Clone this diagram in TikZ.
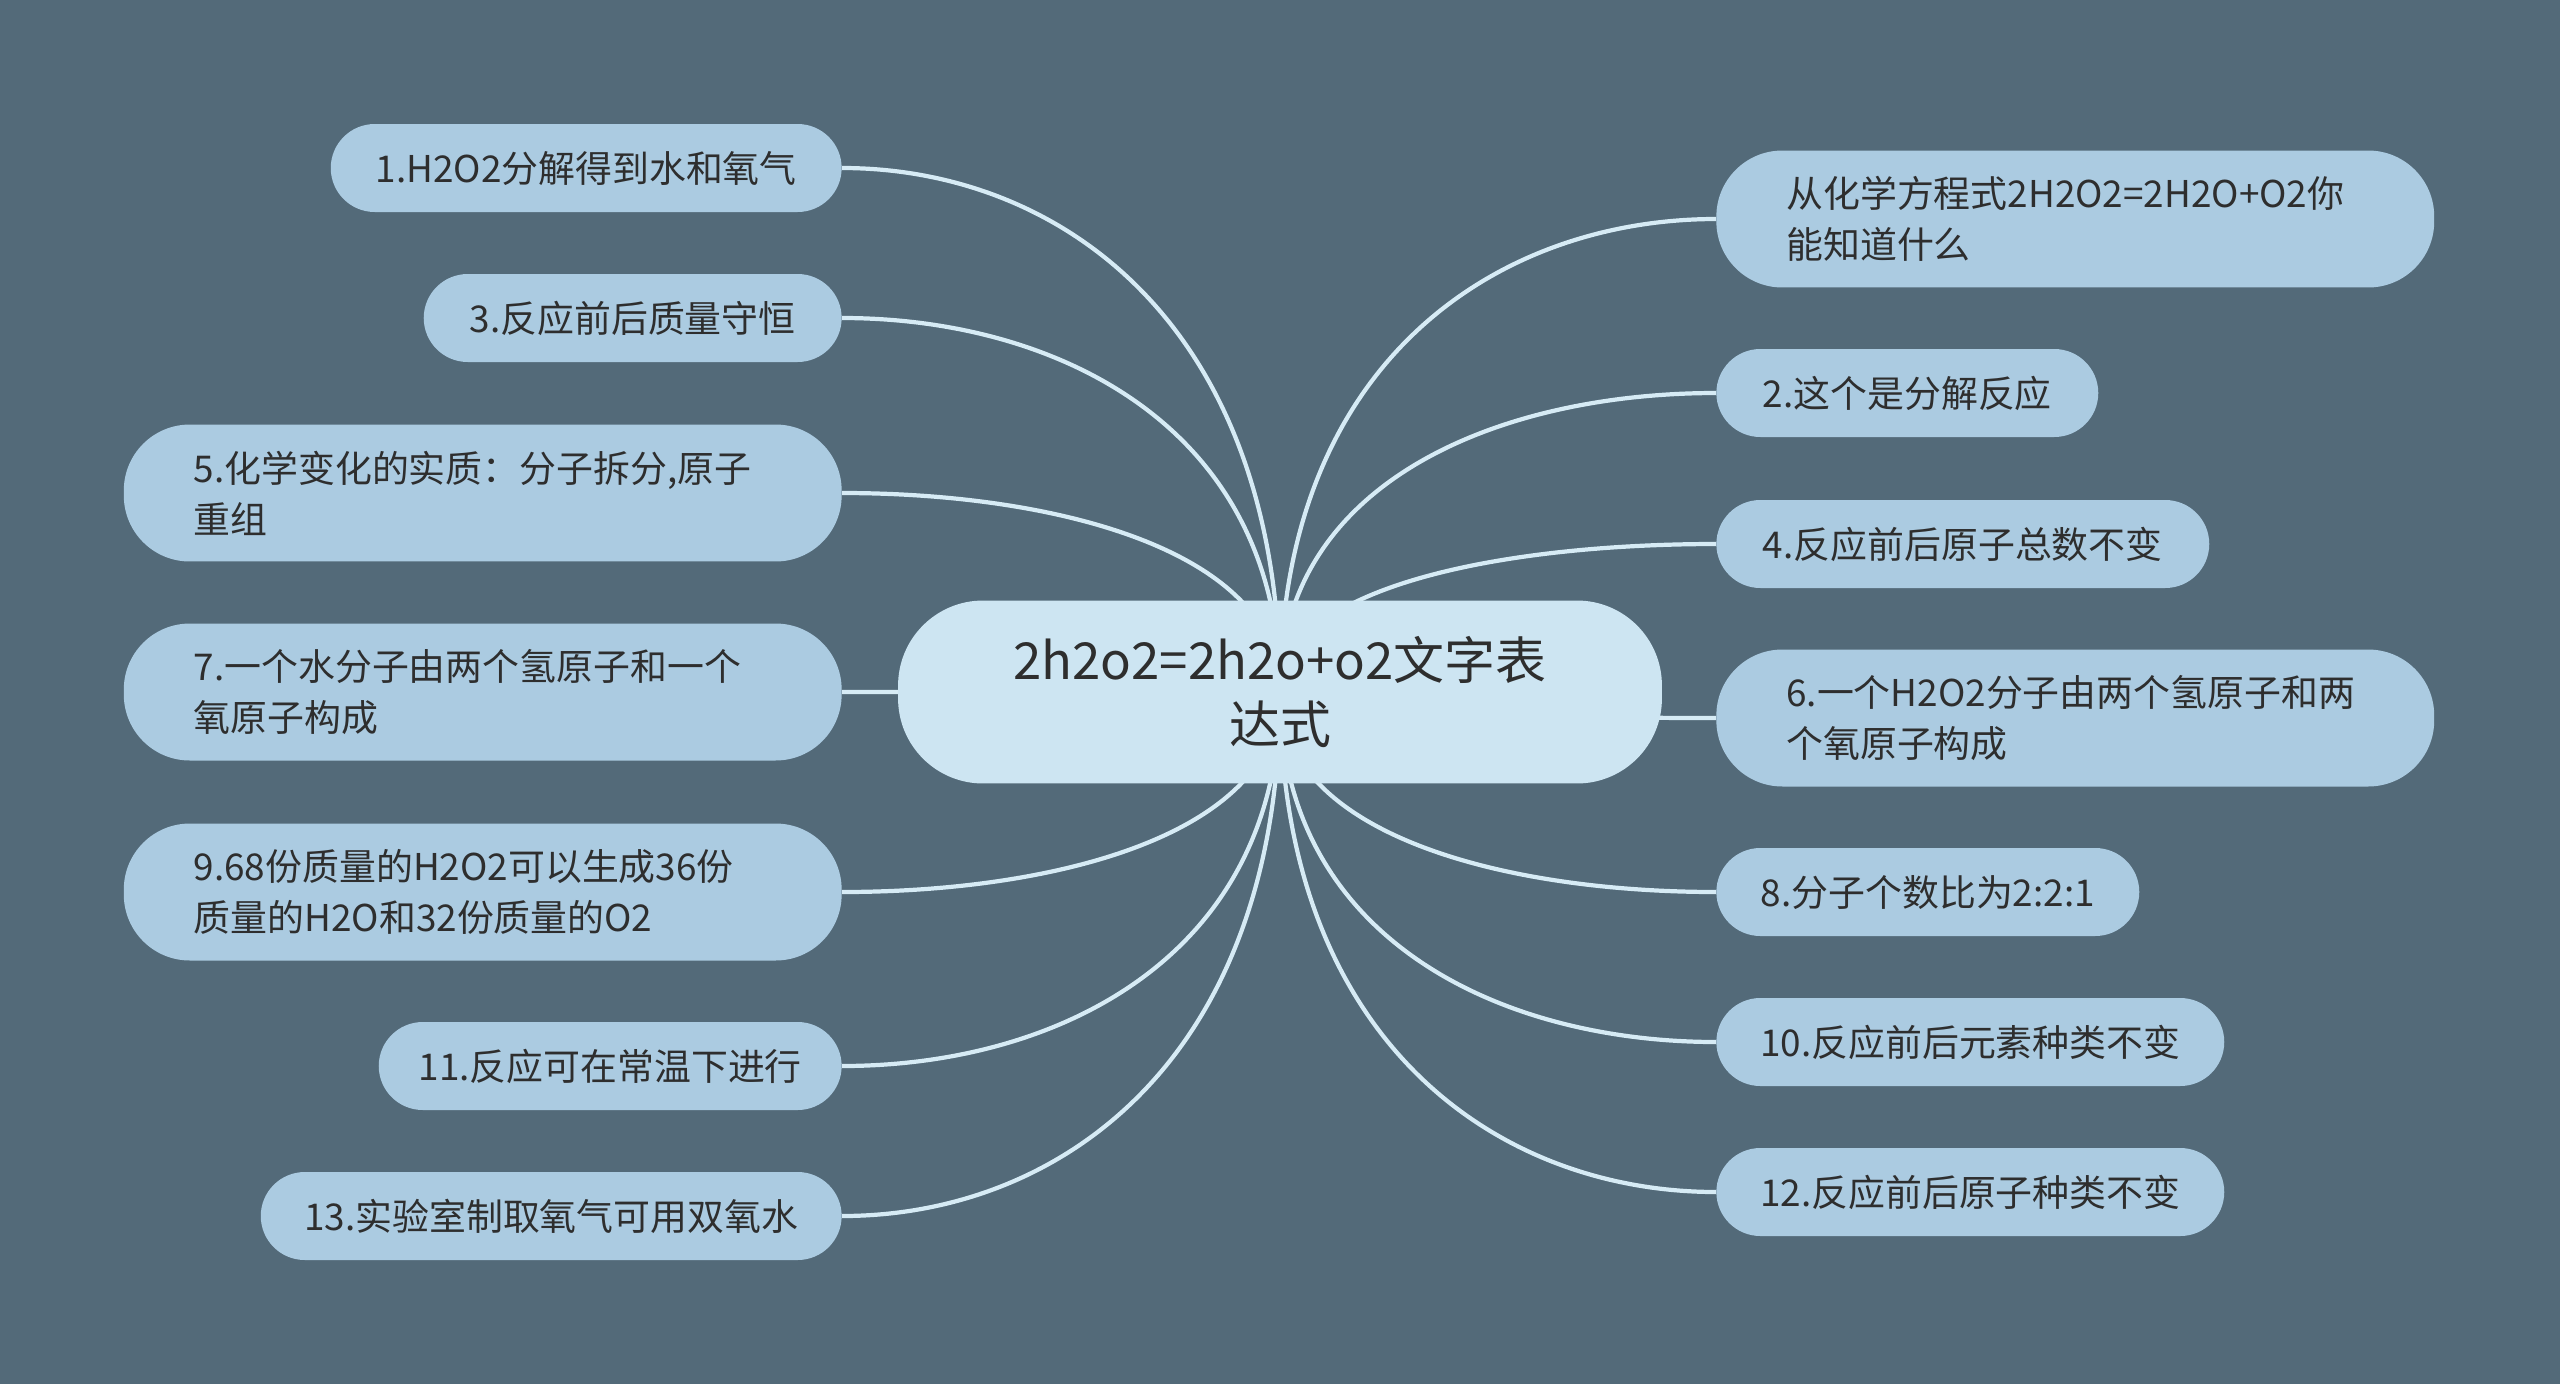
\documentclass[tikz,border=0pt]{standalone}
\usepackage{fontspec}
\setmainfont{Noto Sans CJK SC}
\usetikzlibrary{calc}
\definecolor{Slate}{HTML}{536A79}
\definecolor{Leaf}{HTML}{ABCBE1}
\definecolor{Core}{HTML}{CDE5F2}
\definecolor{Wire}{HTML}{D6EBF5}
\definecolor{Ink}{HTML}{2E2E2E}
\pgfdeclarelayer{canvas}
\pgfdeclarelayer{wires}
\pgfsetlayers{canvas,wires,main}
\tikzset{
 leaf/.style={fill=Leaf,text=Ink,rounded corners=0.88cm,minimum height=1.76cm,inner xsep=0pt,inner ysep=0.45cm,align=center,font=\fontsize{21}{29}\selectfont},
 wide/.style={leaf,rounded corners=1.32cm,minimum height=2.74cm,text width=11.56cm,inner xsep=1.4cm,align=left},
 core/.style={fill=Core,text=Ink,rounded corners=1.7cm,minimum width=15.28cm,minimum height=3.66cm,align=center,font=\fontsize{29}{36}\selectfont},
 link/.style={draw=Wire,line width=2.4pt}
}
\begin{document}
\begin{tikzpicture}[x=0.02cm,y=-0.02cm]
\useasboundingbox (0,0) rectangle (2560,1384);
\begin{pgfonlayer}{canvas}
\fill[Slate] (0,0) rectangle (2560,1384);
\end{pgfonlayer}
\node[core] (ctr) at (1280,692) {2h2o2=2h2o+o2文字表\\达式};
% left branches
\foreach \nm/\y/\w/\txt in {l1/168/10.22/{1.H2O2分解得到水和氧气},l3/318/8.36/{3.反应前后质量守恒},l11/1066/9.26/{11.反应可在常温下进行},l13/1216/11.62/{13.实验室制取氧气可用双氧水}}
 \node[leaf,minimum width=\w cm,anchor=east] (\nm) at (842,\y) {\txt};
\foreach \nm/\y/\txt in {l5/493/{5.化学变化的实质：分子拆分,原子\\重组},l7/692/{7.一个水分子由两个氢原子和一个\\氧原子构成},l9/892/{9.68份质量的H2O2可以生成36份\\质量的H2O和32份质量的O2}}
 \node[wide,anchor=east] (\nm) at (842,\y) {\txt};
% right branches
\foreach \nm/\y/\w/\txt in {r2/393/7.64/{2.这个是分解反应},r4/544/9.86/{4.反应前后原子总数不变},r8/892/8.46/{8.分子个数比为2:2:1},r10/1042/10.16/{10.反应前后元素种类不变},r12/1192/10.16/{12.反应前后原子种类不变}}
 \node[leaf,minimum width=\w cm,anchor=west] (\nm) at (1716,\y) {\txt};
\foreach \nm/\y/\txt in {r0/219/{从化学方程式2H2O2=2H2O+O2你\\能知道什么},r6/718/{6.一个H2O2分子由两个氢原子和两\\个氧原子构成}}
 \node[wide,anchor=west] (\nm) at (1716,\y) {\txt};
% connectors
\begin{pgfonlayer}{wires}
\foreach \nm in {l1,l3,l5,l7,l9,l11,l13}
 \draw[link] (\nm.east) .. controls ($(\nm.east)!.5!(\nm.east -| ctr)$) and ($(ctr |- \nm.east)!.3!(ctr)$) .. (ctr.center);
\foreach \nm in {r0,r2,r4,r6,r8,r10,r12}
 \draw[link] (\nm.west) .. controls ($(\nm.west)!.5!(\nm.west -| ctr)$) and ($(ctr |- \nm.west)!.3!(ctr)$) .. (ctr.center);
\end{pgfonlayer}
\end{tikzpicture}
\end{document}
